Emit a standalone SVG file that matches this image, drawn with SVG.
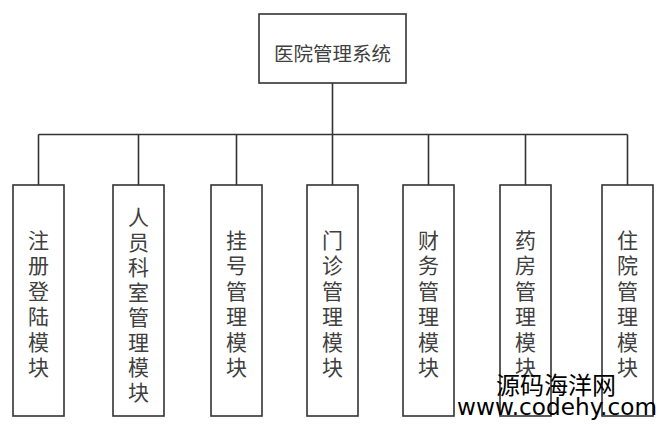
<svg xmlns="http://www.w3.org/2000/svg" width="662" height="426" viewBox="0 0 662 426">
<style>
.box{fill:#fff;stroke:#333;stroke-width:1.6}
.ln{stroke:#333;stroke-width:1.6;fill:none}
.lbl{font-family:"Noto Sans CJK SC","Noto Sans",sans-serif;font-size:21px;fill:#404040;writing-mode:vertical-rl;text-orientation:upright;letter-spacing:4.5px}
.l8{letter-spacing:4px}
.ttl{font-family:"Noto Sans CJK SC","Noto Sans",sans-serif;font-size:19.5px;fill:#404040;text-anchor:middle}
.wm{font-family:"Noto Sans CJK SC","Noto Sans",sans-serif;font-size:24px;fill:#000;text-anchor:middle}
.wm2{font-family:"DejaVu Sans",sans-serif;font-size:22.5px;fill:#000}
</style>
<rect width="662" height="426" fill="#fff"/>
<g id="connectors">
<path class="ln" d="M332.5 83V134.5M38.5 134.5H627.5M38.5 134.5V185M138.5 134.5V185M236.5 134.5V185M332.5 134.5V185M428.5 134.5V185M525.5 134.5V185M627.5 134.5V185"/>
</g>
<g id="root">
<rect class="box" x="259" y="14" width="147" height="69"/>
<text class="ttl" x="332.5" y="60.5">医院管理系统</text>
</g>
<g id="m1">
<rect class="box" x="13" y="185" width="51" height="231"/>
<text class="lbl" x="38.5" y="229.5">注册登陆模块</text>
</g>
<g id="m2">
<rect class="box" x="113" y="185" width="51" height="231"/>
<text class="lbl l8" x="138.5" y="206.5">人员科室管理模块</text>
</g>
<g id="m3">
<rect class="box" x="211" y="185" width="51" height="231"/>
<text class="lbl" x="236.5" y="229.5">挂号管理模块</text>
</g>
<g id="m4">
<rect class="box" x="307" y="185" width="51" height="231"/>
<text class="lbl" x="332.5" y="229.5">门诊管理模块</text>
</g>
<g id="m5">
<rect class="box" x="403" y="185" width="51" height="231"/>
<text class="lbl" x="428.5" y="229.5">财务管理模块</text>
</g>
<g id="m6">
<rect class="box" x="500" y="185" width="51" height="231"/>
<text class="lbl" x="525.5" y="229.5">药房管理模块</text>
</g>
<g id="m7">
<rect class="box" x="602" y="185" width="51" height="231"/>
<text class="lbl" x="627.5" y="229.5">住院管理模块</text>
</g>
<g id="watermark">
<text class="wm" x="556" y="394">源码海洋网</text>
<text class="wm2" x="457" y="415" textLength="200" lengthAdjust="spacingAndGlyphs">www.codehy.com</text>
</g>
</svg>
